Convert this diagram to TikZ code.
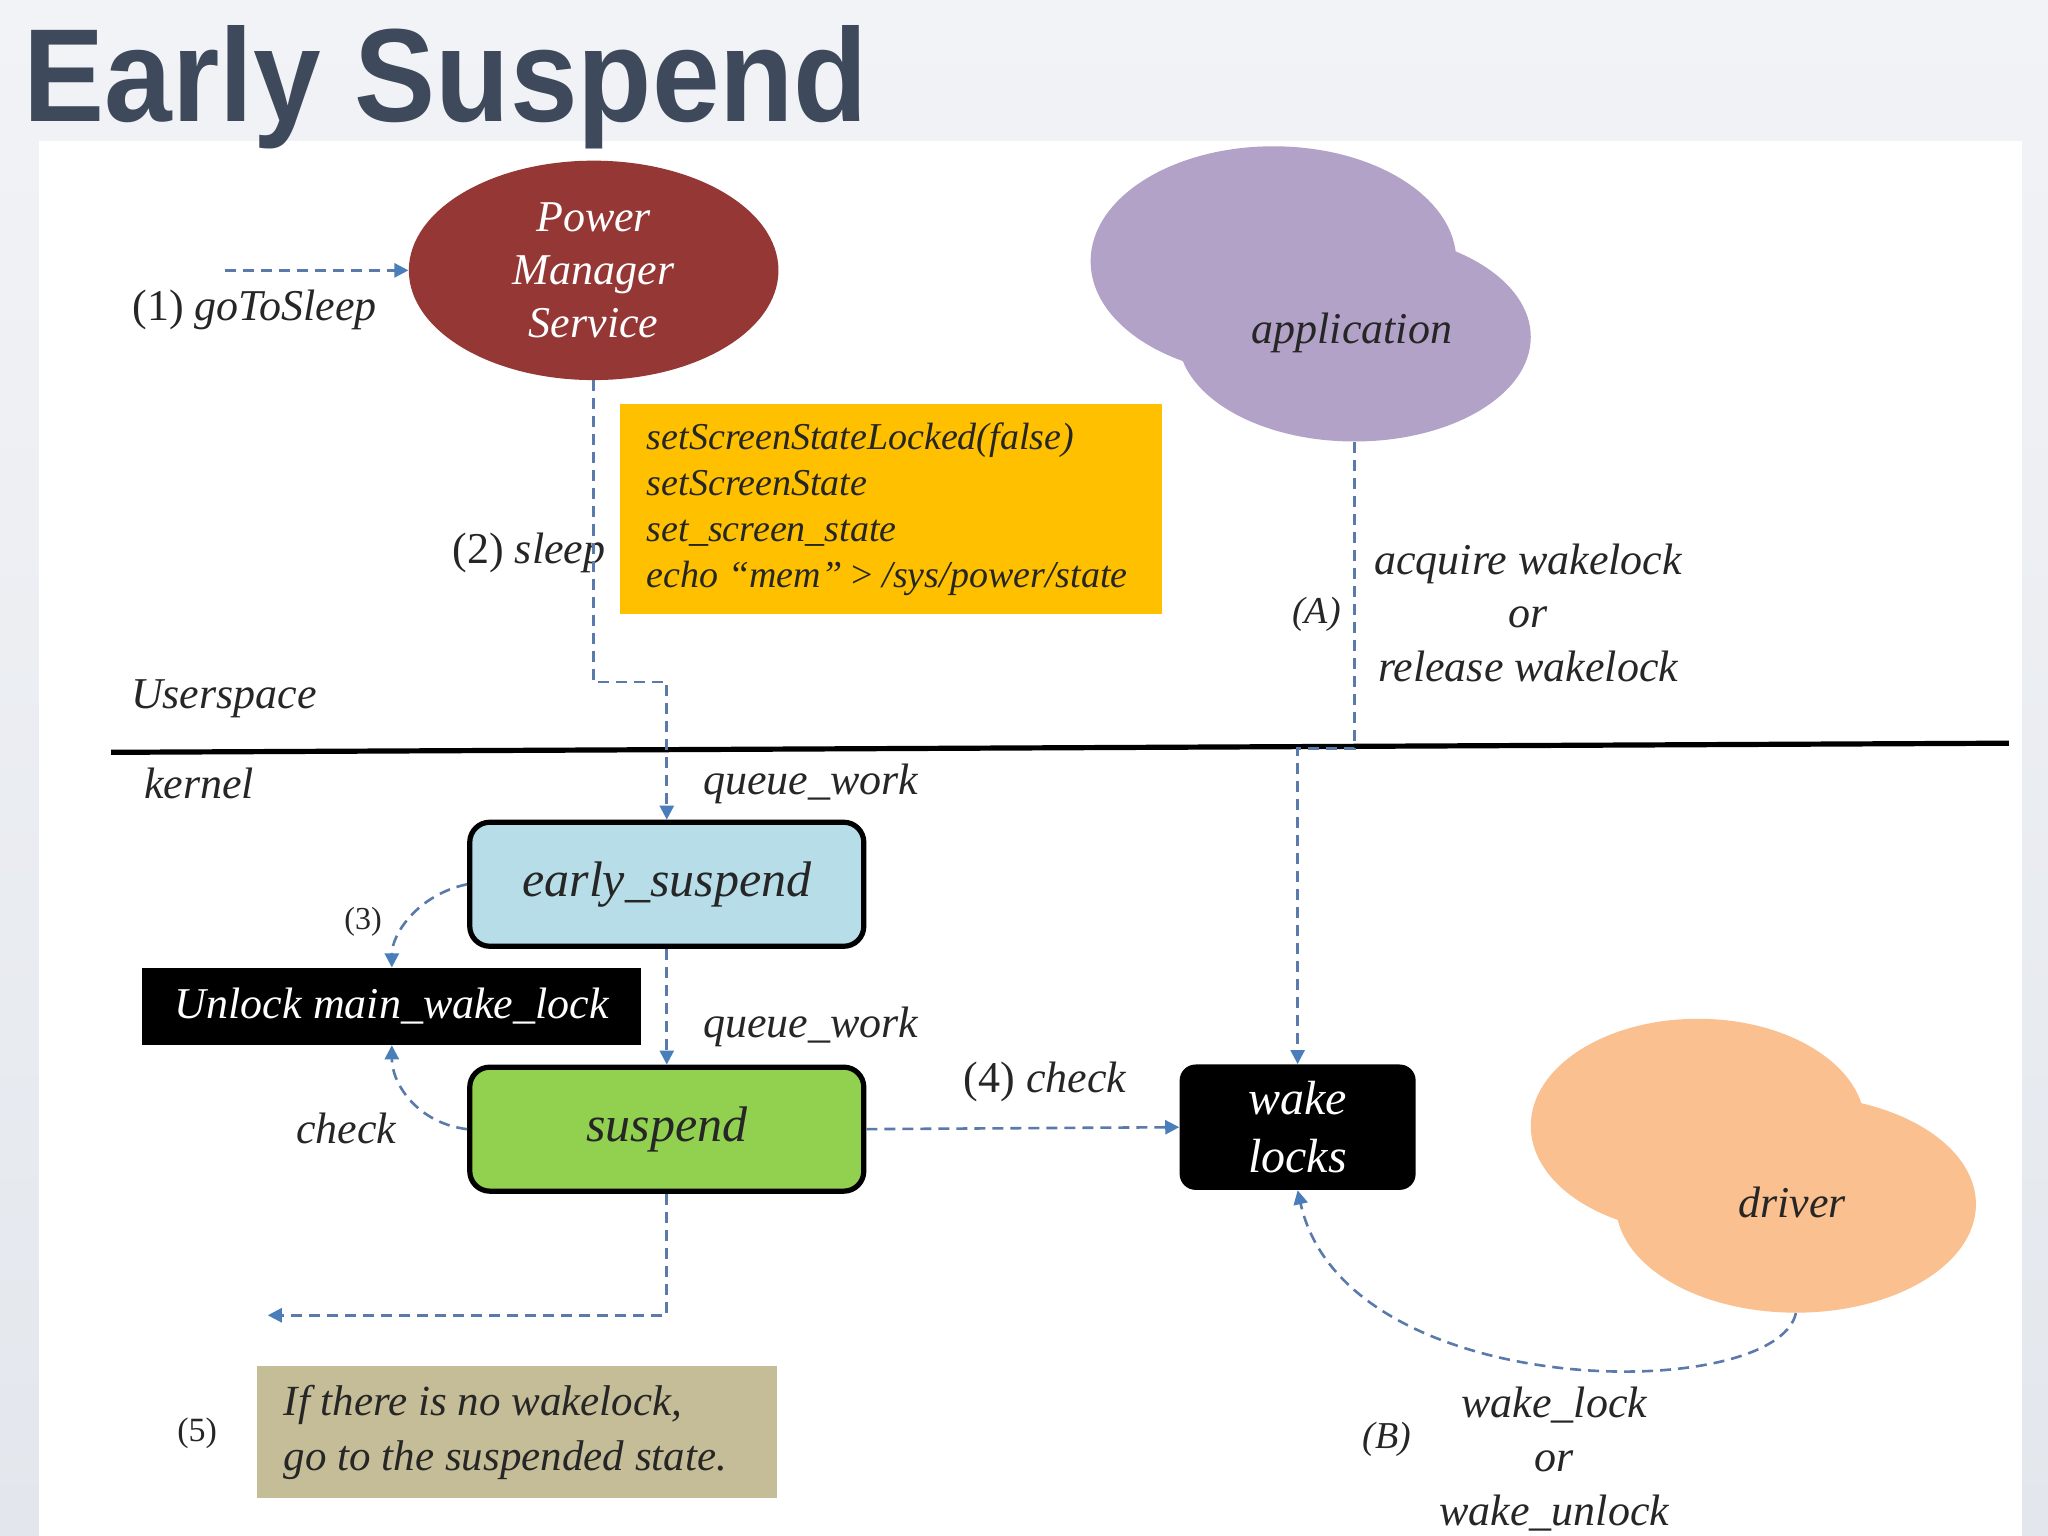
\documentclass[tikz,border=0pt]{standalone}
\usepackage{fontspec}
\setmainfont{Liberation Serif}
\newfontfamily\titlefont{Liberation Sans}
\usepackage{graphicx}
\usetikzlibrary{arrows.meta,shapes.geometric}
\definecolor{pmsred}{HTML}{953735}
\definecolor{appcol}{HTML}{B2A2C7}
\definecolor{drvcol}{HTML}{FAC08F}
\definecolor{yellowc}{HTML}{FFC000}
\definecolor{esblue}{HTML}{B7DEE8}
\definecolor{sgreen}{HTML}{92D050}
\definecolor{khaki}{HTML}{C4BD97}
\definecolor{lineblue}{HTML}{5A7AAA}
\definecolor{headblue}{HTML}{4A7EBB}
\definecolor{txt}{HTML}{262626}
\definecolor{titlec}{HTML}{3E4A5C}
\definecolor{bgtop}{HTML}{F2F3F6}
\definecolor{bgbot}{HTML}{E3E7ED}
\begin{document}
\begin{tikzpicture}[x=0.653pt,y=-0.653pt,
  lbl/.style={font=\fontsize{22}{26.8}\selectfont\itshape, text=txt, inner sep=0pt},
  small/.style={font=\fontsize{17}{20}\selectfont, text=txt, inner sep=0pt},
  dl/.style={draw=lineblue, line width=1.3pt, dash pattern=on 5.5pt off 3.5pt,
    -{Triangle[length=7pt,width=7pt,color=headblue]}},
  procbox/.style={draw=black, line width=2.6pt, rounded corners=10pt,
    minimum width=197pt, minimum height=62pt, text=txt,
    font=\fontsize{25}{30}\selectfont\itshape},
  blackbox/.style={fill=black, text=white, inner sep=0pt}
]
\useasboundingbox (0,0) rectangle (1568,1176);
\shade[top color=bgtop, bottom color=bgbot] (0,0) rectangle (1568,1176);
\fill[white] (30,108) rectangle (1548,1176);

% title
\node[anchor=base west, inner sep=0pt, text=titlec] (title) at (18,93)
  {\resizebox{422pt}{48pt}{\titlefont\bfseries Early Suspend}};

% clouds
\fill[appcol] (975,200) ellipse [x radius=140, y radius=88];
\node[ellipse, fill=appcol, minimum width=176.3pt, minimum height=104.5pt, inner sep=0pt] (app) at (1037,258) {};
\node[lbl, text=black!85] (applbl) at (1035,255) {application};

\fill[drvcol] (1300,862) ellipse [x radius=128, y radius=82];
\node[ellipse, fill=drvcol, minimum width=180pt, minimum height=108.4pt, inner sep=0pt] (drv) at (1375,922) {};
\node[lbl, text=black!85] (drvlbl) at (1372,921) {driver};

% power manager service
\node[ellipse, fill=pmsred, minimum width=184.8pt, minimum height=109.7pt, inner sep=0pt,
  text=white, align=center, font=\fontsize{22}{26.4}\selectfont\itshape] (pms) at (454.5,207)
  {Power\\Manager\\Service};

% yellow box
\node[fill=yellowc, minimum width=271pt, minimum height=105pt, inner sep=0pt] (yb) at (682.5,389.5) {};
\node[anchor=west, inner sep=0pt, align=left, text=black!85,
  font=\fontsize{19}{23}\selectfont\itshape] (ybt) at (495,389.5)
  {setScreenStateLocked(false)\\setScreenState\\set\_screen\_state\\echo ``mem'' {\upshape>} /sys/power/state};

% kernel boxes
\node[procbox, fill=esblue] (es) at (510.5,677) {early\_suspend};
\node[procbox, fill=sgreen] (su) at (510.5,864.5) {suspend};
\node[blackbox, minimum width=249.4pt, minimum height=38.5pt,
  font=\fontsize{22}{26}\selectfont\itshape] (ul) at (300,770.5) {Unlock main\_wake\_lock};
\node[blackbox, rounded corners=8pt, minimum width=118pt, minimum height=62.7pt, align=center,
  font=\fontsize{24}{29}\selectfont\itshape] (wl) at (993.5,863) {wake\\locks};
\node[fill=khaki, minimum width=260pt, minimum height=66pt, inner sep=0pt] (kb) at (396,1096.5) {};
\node[anchor=west, inner sep=0pt, align=left, text=txt,
  font=\fontsize{21.5}{27.4}\selectfont\itshape] (kbt) at (217,1097)
  {If there is no wakelock,\\go to the suspended state.};

% separator
\coordinate (sepL) at (85,576);
\coordinate (sepR) at (1538,569);
\draw[line width=2.6pt, black] (sepL) -- (sepR);

% labels
\node[lbl] (l1) at (195,237) {{\upshape(1)} goToSleep};
\node[lbl] (l2) at (405,423) {{\upshape(2)} sleep};
\node[lbl, anchor=west] (lus) at (100,535) {Userspace};
\node[lbl, anchor=west] (lk) at (110,600) {kernel};
\node[lbl, anchor=west] (lq1) at (538,600) {queue\_work};
\node[lbl, anchor=west] (lq2) at (538,786) {queue\_work};
\node[small, font=\fontsize{16}{19}\selectfont] (l3) at (278,706) {(3)};
\node[lbl] (lc) at (265,864) {check};
\node[lbl] (l4) at (800,828) {{\upshape(4)} check};
\node[lbl, font=\fontsize{19}{22}\selectfont\itshape] (lA) at (1008,470) {(A)};
\node[lbl, align=center] (lacq) at (1170,469) {acquire wakelock\\or\\release wakelock};
\node[lbl, font=\fontsize{19}{22}\selectfont\itshape] (lB) at (1062,1102) {(B)};
\node[lbl, align=center, font=\fontsize{22}{27.1}\selectfont\itshape] (lwk) at (1190,1117) {wake\_lock\\or\\wake\_unlock};
\node[small] (l5) at (151,1097) {(5)};

% connectors
\coordinate (g1) at (172,207);
\draw[dl] (g1) -- (pms.west);
\coordinate (s1) at (454.5,522);
\draw[dl] (pms.south) -- (s1) -| (es.north);
\coordinate (a1) at (1037,573);
\draw[dl] (app.south) -- (a1) -| (wl.north);
\draw[dl] (es.south) -- (su.north);
\draw[dl] (su.east) -- (wl.west);
\coordinate (f1) at (510.5,1007);
\coordinate (f2) at (205,1007);
\draw[dl] (su.south) -- (f1) -- (f2);
\draw[dl] (es.west) .. controls (320,685) and (300,715) .. (ul.north);
\draw[dl] (su.west) .. controls (320,860) and (300,830) .. (ul.south);
\draw[dl] (drv.south) .. controls (1360,1075) and (1030,1075) .. (wl.south);
\end{tikzpicture}
\end{document}
